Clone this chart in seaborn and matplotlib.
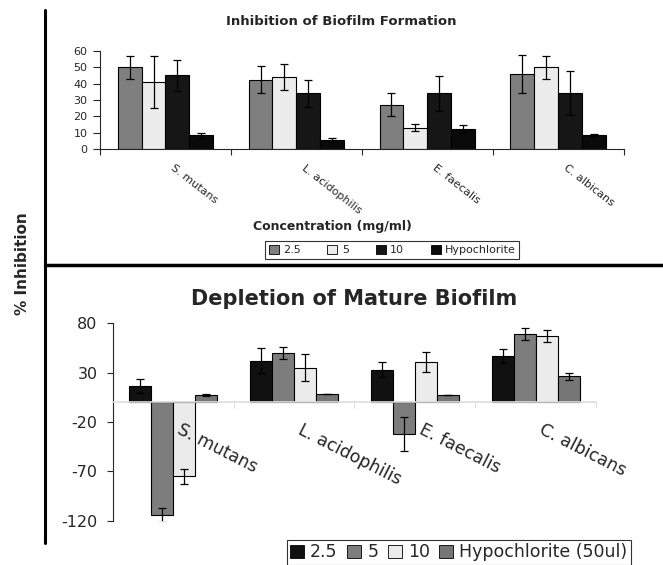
import numpy as np
import pandas as pd
import matplotlib.pyplot as plt
import seaborn as sns
from matplotlib.lines import Line2D
from matplotlib.patches import Patch

sns.set_style("ticks")
plt.rcParams['font.family'] = ['DejaVu Sans']
plt.rcParams['axes.unicode_minus'] = False

species = ["S. mutans", "L. acidophilis", "E. faecalis", "C. albicans"]

# Inhibition of Biofilm Formation (top panel)
form_levels = ["2.5", "5", "10", "Hypochlorite"]
form_25 = [50, 42.5, 27, 46]
form_25_err = [7, 8.5, 7, 11.5]
form_5 = [41, 44, 13, 50]
form_5_err = [16, 8, 2, 7]
form_10 = [45, 34, 34, 34]
form_10_err = [9.5, 8, 10.5, 13.5]
form_hypo = [8.5, 5.5, 12.5, 8.5]
form_hypo_err = [1.5, 1, 2, 0.5]

# Depletion of Mature Biofilm (bottom panel)
depl_levels = ["2.5", "5", "10", "Hypochlorite (50ul)"]
depl_25 = [16, 42, 33, 47]
depl_25_err = [7, 13, 8, 7]
depl_5 = [-114, 50, -32, 69]
depl_5_err = [7, 6, 17, 6]
depl_10 = [-75, 35, 41, 67]
depl_10_err = [8, 14, 10, 6]
depl_hypo = [7, 8, 7, 26]
depl_hypo_err = [1, 0, 0, 4]

form_vals = [form_25, form_5, form_10, form_hypo]
form_errs = [form_25_err, form_5_err, form_10_err, form_hypo_err]
depl_vals = [depl_25, depl_5, depl_10, depl_hypo]
depl_errs = [depl_25_err, depl_5_err, depl_10_err, depl_hypo_err]

form_colors = ["#7f7f7f", "#ececec", "#161616", "#0a0a0a"]
depl_colors = ["#111111", "#7d7d7d", "#ebebeb", "#767676"]


def long_df(levels, vals):
    rows = []
    for lvl, v in zip(levels, vals):
        for sp, x in zip(species, v):
            rows.append({"species": sp, "conc": lvl, "value": x})
    return pd.DataFrame(rows)


def draw_bars(ax, levels, vals, errs, colors):
    df = long_df(levels, vals)
    sns.barplot(data=df, x="species", y="value", hue="conc", hue_order=levels,
                order=species, palette=colors, edgecolor="black", linewidth=0.8,
                width=0.73, errorbar=None, legend=False, ax=ax)
    for cont, v, e in zip(ax.containers, vals, errs):
        xs = [b.get_x() + b.get_width() / 2 for b in cont]
        ax.errorbar(xs, v, yerr=e, fmt="none", ecolor="black",
                    elinewidth=0.9, capsize=3, capthick=0.9)
    ax.set_xlim(-0.5, 3.5)
    ax.set_xlabel("")
    ax.set_ylabel("")
    ax.set_xticks([])
    ax.set_xticks([-0.5, 0.5, 1.5, 2.5, 3.5], minor=True)
    ax.tick_params(axis="x", which="minor", length=4, width=0.8)


def category_labels(ax, size, rot, offset):
    for i, sp in enumerate(species):
        ax.annotate(sp, xy=(i, 0), xycoords=("data", "data"),
                    xytext=offset, textcoords="offset points",
                    rotation=rot, ha="left", va="top", rotation_mode="anchor",
                    fontsize=size, zorder=10, annotation_clip=False)


fig = plt.figure(figsize=(6.63, 5.65), dpi=100)

# ---- top panel ----
ax1 = fig.add_axes([0.1508, 0.7363, 0.790, 0.1735])
draw_bars(ax1, form_levels, form_vals, form_errs, form_colors)
ax1.set_ylim(0, 60)
ax1.set_yticks(np.arange(0, 61, 10))
ax1.tick_params(axis="y", labelsize=8, length=5, width=0.8, pad=4)
sns.despine(ax=ax1)
category_labels(ax1, 8, -38, (7, -10))
ax1.set_title("Inhibition of Biofilm Formation", fontsize=9.5,
              fontweight="bold", x=0.46, pad=19)
ax1.set_xlabel("Concentration (mg/ml)", fontsize=9, fontweight="bold")
ax1.xaxis.set_label_coords(0.443, -0.72)
h1 = [Patch(facecolor=c, edgecolor="black", linewidth=0.6) for c in form_colors]
leg1 = ax1.legend(h1, form_levels, loc="center", bbox_to_anchor=(0.558, -1.03),
                  ncol=4, fontsize=8, frameon=True, fancybox=False,
                  handlelength=0.9, handleheight=0.9, handletextpad=0.4,
                  columnspacing=2.4, borderpad=0.3)
leg1.get_frame().set_edgecolor("black")
leg1.get_frame().set_linewidth(0.8)

# ---- bottom panel ----
ax2 = fig.add_axes([0.1704, 0.0779, 0.7285, 0.3504])
draw_bars(ax2, depl_levels, depl_vals, depl_errs, depl_colors)
ax2.set_ylim(-120, 80)
ax2.set_yticks([80, 30, -20, -70, -120])
ax2.tick_params(axis="y", labelsize=11.5, length=4, width=0.8, pad=7)
ax2.spines["bottom"].set_position(("data", 0))
ax2.spines["bottom"].set_color("#dddddd")
ax2.spines["bottom"].set_linewidth(1.2)
ax2.tick_params(axis="x", which="minor", color="#dddddd")
sns.despine(ax=ax2)
category_labels(ax2, 12.5, -27, (6.5, -13.5))
ax2.set_title("Depletion of Mature Biofilm", fontsize=15, fontweight="bold",
              pad=13)
h2 = [Patch(facecolor=c, edgecolor="black", linewidth=0.6) for c in depl_colors]
leg2 = ax2.legend(h2, depl_levels, loc="upper center", bbox_to_anchor=(0.716, -0.096),
                  borderaxespad=0, ncol=4, fontsize=12.5, frameon=True,
                  fancybox=False, handlelength=0.8, handleheight=0.8,
                  handletextpad=0.35, columnspacing=0.55, borderpad=0.2)
leg2.get_frame().set_edgecolor("black")
leg2.get_frame().set_linewidth(0.8)

# shared y label and panel frame lines
fig.text(23 / 663, 1 - 264 / 565, "% Inhibition", rotation=90, ha="center",
         va="center", fontsize=11, fontweight="bold")
fig.add_artist(Line2D([45 / 663, 45 / 663], [1 - 10 / 565, 1 - 543 / 565],
                      transform=fig.transFigure, color="black", lw=2.2))
fig.add_artist(Line2D([45 / 663, 1.0], [1 - 265 / 565, 1 - 265 / 565],
                      transform=fig.transFigure, color="black", lw=2.5))

fig.savefig("out.png", dpi=100)
